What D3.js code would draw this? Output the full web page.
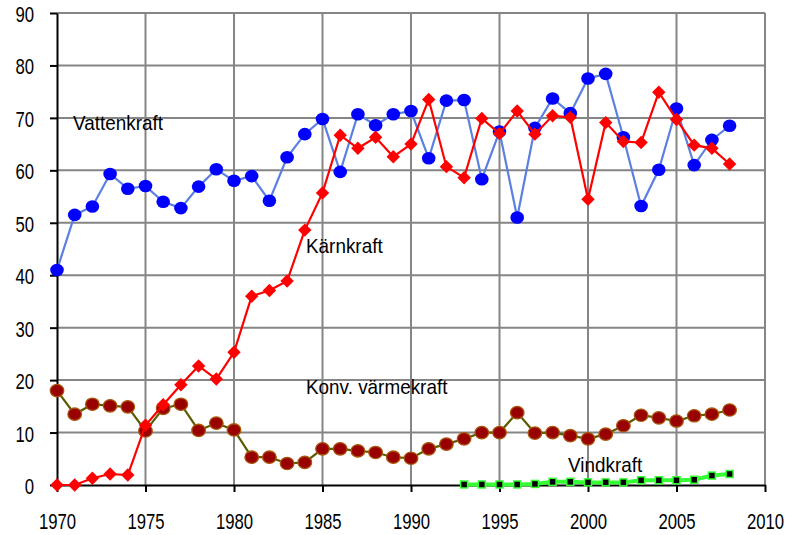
<!DOCTYPE html>
<html lang="sv">
<head>
<meta charset="utf-8">
<title>Elproduktion</title>
<script src="https://cdn.jsdelivr.net/npm/d3@7/dist/d3.min.js"></script>
<style>
  body { margin: 0; background: #fff; }
  svg text { font-family: "Liberation Sans", Arial, sans-serif; fill: #000; }
</style>
</head>
<body>
<svg id="chart" width="787" height="535"></svg>
<script>
// TWh per year
const years = d3.range(1970, 2009);
const windYears = d3.range(1993, 2009);

const vattenkraft = [41.0, 51.5, 53.1, 59.3, 56.5, 57.0, 54.0, 52.8, 56.9, 60.2,
  58.0, 58.9, 54.2, 62.5, 66.9, 69.8, 59.7, 70.7, 68.6, 70.7,
  71.3, 62.3, 73.3, 73.4, 58.3, 67.4, 51.0, 68.1, 73.7, 70.9,
  77.5, 78.4, 66.3, 53.2, 60.1, 71.8, 61.0, 65.8, 68.5];

const karnkraft = [0.0, 0.0, 1.3, 2.1, 1.9, 11.4, 15.3, 19.1, 22.7, 20.2,
  25.3, 36.0, 37.1, 38.9, 48.6, 55.7, 66.7, 64.2, 66.3, 62.6,
  65.0, 73.5, 60.7, 58.6, 69.9, 67.0, 71.3, 66.9, 70.4, 70.1,
  54.5, 69.1, 65.5, 65.3, 74.9, 69.7, 64.8, 64.2, 61.2];

const varmekraft = [18.0, 13.5, 15.4, 15.1, 14.9, 10.3, 14.6, 15.4, 10.4, 11.8,
  10.5, 5.3, 5.3, 4.1, 4.3, 6.9, 6.9, 6.5, 6.2, 5.3,
  5.1, 6.9, 7.8, 8.8, 10.0, 10.0, 13.8, 9.9, 10.0, 9.4,
  8.8, 9.7, 11.3, 13.3, 12.8, 12.2, 13.2, 13.5, 14.3];

const vindkraft = [0.1, 0.1, 0.1, 0.1, 0.2, 0.6, 0.6, 0.5, 0.5, 0.5,
  0.9, 0.9, 0.9, 1.0, 1.8, 2.1];

const yTicks = d3.range(0, 100, 10);
const xTicks = d3.range(1970, 2015, 5);

const svg = d3.select("#chart");
const mLeft = 57, mRight = 765, mTop = 13, mBottom = 485;

const x = d3.scaleLinear().domain([1970, 2010]).range([mLeft, mRight]);
const y = d3.scaleLinear().domain([0, 90]).range([mBottom, mTop]);

// grid
svg.append("g").selectAll("line").data(yTicks.slice(1)).join("line")
  .attr("x1", mLeft).attr("x2", mRight)
  .attr("y1", d => y(d)).attr("y2", d => y(d))
  .attr("stroke", "#858585").attr("stroke-width", 2);
svg.append("g").selectAll("line").data(xTicks.slice(1)).join("line")
  .attr("x1", d => x(d)).attr("x2", d => x(d))
  .attr("y1", mTop).attr("y2", mBottom)
  .attr("stroke", "#858585").attr("stroke-width", 2);

// axis title, mostly hidden behind the year labels
const clip = svg.append("clipPath").attr("id", "titleclip");
clip.append("rect").attr("x", 330).attr("y", 498).attr("width", 130).attr("height", 7);
svg.append("text")
  .attr("clip-path", "url(#titleclip)")
  .attr("transform", "translate(340,516) scale(0.85,1)")
  .attr("font-size", 20)
  .text("Sammanlagd produktion");

// axes
const xAxis = svg.append("g")
  .attr("transform", `translate(0,${mBottom})`)
  .call(d3.axisBottom(x).tickValues(xTicks).tickSize(7).tickSizeOuter(0).tickFormat(d3.format("d")));
const yAxis = svg.append("g")
  .attr("transform", `translate(${mLeft},0)`)
  .call(d3.axisLeft(y).tickValues(yTicks).tickSize(7).tickSizeOuter(0));

[xAxis, yAxis].forEach(g => {
  g.select(".domain").attr("stroke", "#000").attr("stroke-width", 2);
  g.selectAll(".tick line").attr("stroke", "#000").attr("stroke-width", 2);
  g.selectAll(".tick text").attr("font-size", 22).attr("fill", "#000")
    .attr("font-family", "'Liberation Sans', Arial, sans-serif");
});
xAxis.selectAll(".tick text").attr("dy", null).attr("y", 44)
  .attr("transform", "scale(0.76,1)");
yAxis.selectAll(".tick text").attr("dy", null).attr("y", 8.5)
  .attr("x", -23 / 0.76).attr("transform", "scale(0.76,1)");

const line = d3.line().x(d => x(d[0])).y(d => y(d[1]));
const zip = (xs, vs) => xs.map((yr, i) => [yr, vs[i]]);

// Vattenkraft
const vat = zip(years, vattenkraft);
svg.append("path").datum(vat).attr("d", line)
  .attr("fill", "none").attr("stroke", "#5b80e2").attr("stroke-width", 2.2);
svg.append("g").selectAll("ellipse").data(vat).join("ellipse")
  .attr("cx", d => x(d[0])).attr("cy", d => y(d[1]))
  .attr("rx", 6.8).attr("ry", 6.3).attr("fill", "#0000ff");

// Konv. värmekraft
const kon = zip(years, varmekraft);
svg.append("path").datum(kon).attr("d", line)
  .attr("fill", "none").attr("stroke", "#5c5c00").attr("stroke-width", 2.2);
svg.append("g").selectAll("ellipse").data(kon).join("ellipse")
  .attr("cx", d => x(d[0])).attr("cy", d => y(d[1]))
  .attr("rx", 6.8).attr("ry", 6.2)
  .attr("fill", "#990000").attr("stroke", "#a8560a").attr("stroke-width", 1.3);

// Kärnkraft
const kar = zip(years, karnkraft);
svg.append("path").datum(kar).attr("d", line)
  .attr("fill", "none").attr("stroke", "#ff0000").attr("stroke-width", 2.2);
const diamond = d3.symbol().type(d3.symbolSquare).size(90);
svg.append("g").selectAll("path").data(kar).join("path")
  .attr("d", diamond)
  .attr("transform", d => `translate(${x(d[0])},${y(d[1])}) rotate(45)`)
  .attr("fill", "#ff0000");

// Vindkraft
const vin = zip(windYears, vindkraft);
svg.append("path").datum(vin).attr("d", line)
  .attr("fill", "none").attr("stroke", "#33ff33").attr("stroke-width", 4);
svg.append("g").selectAll("rect").data(vin).join("rect")
  .attr("x", d => x(d[0]) - 3.5).attr("y", d => y(d[1]) - 3.5)
  .attr("width", 7).attr("height", 7)
  .attr("fill", "#000").attr("stroke", "#33ff33").attr("stroke-width", 1.5);

// series labels
const labels = [
  ["Vattenkraft", 73, 130],
  ["Kärnkraft", 306, 253],
  ["Konv. värmekraft", 306, 394],
  ["Vindkraft", 568, 472]
];
svg.append("g").selectAll("text").data(labels).join("text")
  .attr("transform", d => `translate(${d[1]},${d[2]}) scale(0.9,1)`)
  .attr("font-size", 21)
  .text(d => d[0]);
</script>
</body>
</html>
